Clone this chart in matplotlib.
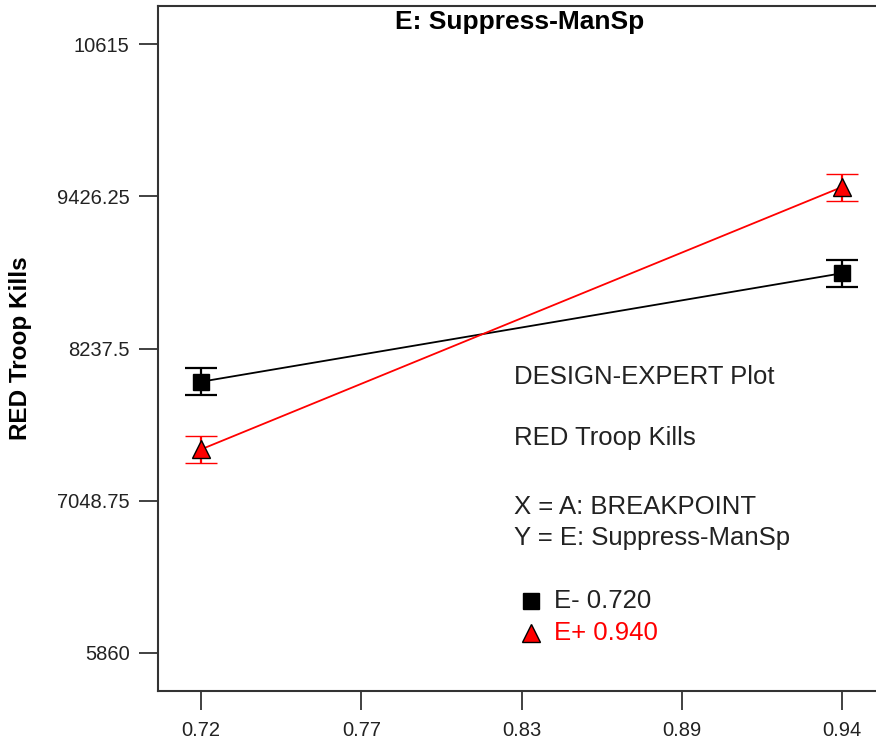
import numpy as np
import matplotlib
matplotlib.use("Agg")
import matplotlib.pyplot as plt
from matplotlib.ticker import FixedLocator, FixedFormatter

plt.rcParams["font.family"] = ["Liberation Sans", "DejaVu Sans"]

# interaction plot data: BREAKPOINT levels vs RED Troop Kills
breakpoint = [0.72, 0.94]
kills_lo = [7978, 8825]     # E- 0.720
kills_hi = [7450, 9498]     # E+ 0.940
lsd_lo = [104, 104]
lsd_hi = [105, 105]

x_ticks = [0.72, 0.775, 0.83, 0.885, 0.94]
x_labels = ["0.72", "0.77", "0.83", "0.89", "0.94"]
y_ticks = [5860, 7048.75, 8237.5, 9426.25, 10615]
y_labels = ["5860", "7048.75", "8237.5", "9426.25", "10615"]

fig = plt.figure(figsize=(8.76, 7.41), dpi=100)
ax = fig.add_axes([158 / 876, 50 / 741, 1 - 158 / 876, 685 / 741])

ax.errorbar(breakpoint, kills_lo, yerr=lsd_lo, color="black", lw=1.3,
            marker="s", ms=12, mfc="black", mec="black",
            ecolor="black", elinewidth=1.6, capsize=11.5, capthick=1.6)
ax.errorbar(breakpoint, kills_hi, yerr=lsd_hi, color="red", lw=1.3,
            marker="^", ms=13, mfc="red", mec="black", mew=1.0,
            ecolor="red", elinewidth=1.6, capsize=11.5, capthick=1.6)

ax.set_xlim(0.7052, 0.9517)
ax.set_ylim(5563, 10912)
ax.xaxis.set_major_locator(FixedLocator(x_ticks))
ax.xaxis.set_major_formatter(FixedFormatter(x_labels))
ax.yaxis.set_major_locator(FixedLocator(y_ticks))
ax.yaxis.set_major_formatter(FixedFormatter(y_labels))
ax.tick_params(length=13.5, width=1.3, color="#333333", labelsize=14.5,
               labelcolor="#222222")
ax.tick_params(axis="x", pad=8)
ax.tick_params(axis="y", pad=7)

for side in ["left", "bottom", "top"]:
    ax.spines[side].set_linewidth(1.5)
    ax.spines[side].set_color("#333333")
ax.spines["right"].set_visible(False)

ax.set_ylabel("RED Troop Kills", fontsize=17.5, fontweight="bold")
ax.yaxis.set_label_coords(-0.176, 0.5)

ax.text(0.503, 0.977, "E: Suppress-ManSp", transform=ax.transAxes,
        ha="center", va="center", fontsize=19, fontweight="bold")

info = [("DESIGN-EXPERT Plot", 0.458), ("RED Troop Kills", 0.369),
        ("X = A: BREAKPOINT", 0.268), ("Y = E: Suppress-ManSp", 0.224)]
for txt, yy in info:
    ax.text(0.496, yy, txt, transform=ax.transAxes, ha="left", va="center",
            fontsize=18.5, color="#222222")

ax.plot([0.520], [0.131], marker="s", ms=11.5, color="black",
        transform=ax.transAxes, clip_on=False)
ax.text(0.552, 0.131, "E- 0.720", transform=ax.transAxes, ha="left",
        va="center", fontsize=18.5, color="#222222")
ax.plot([0.520], [0.0847], marker="^", ms=12.5, mfc="red", mec="black",
        transform=ax.transAxes, clip_on=False)
ax.text(0.552, 0.0847, "E+ 0.940", transform=ax.transAxes, ha="left",
        va="center", fontsize=18.5, color="red")

fig.savefig("out.png", dpi=100)
